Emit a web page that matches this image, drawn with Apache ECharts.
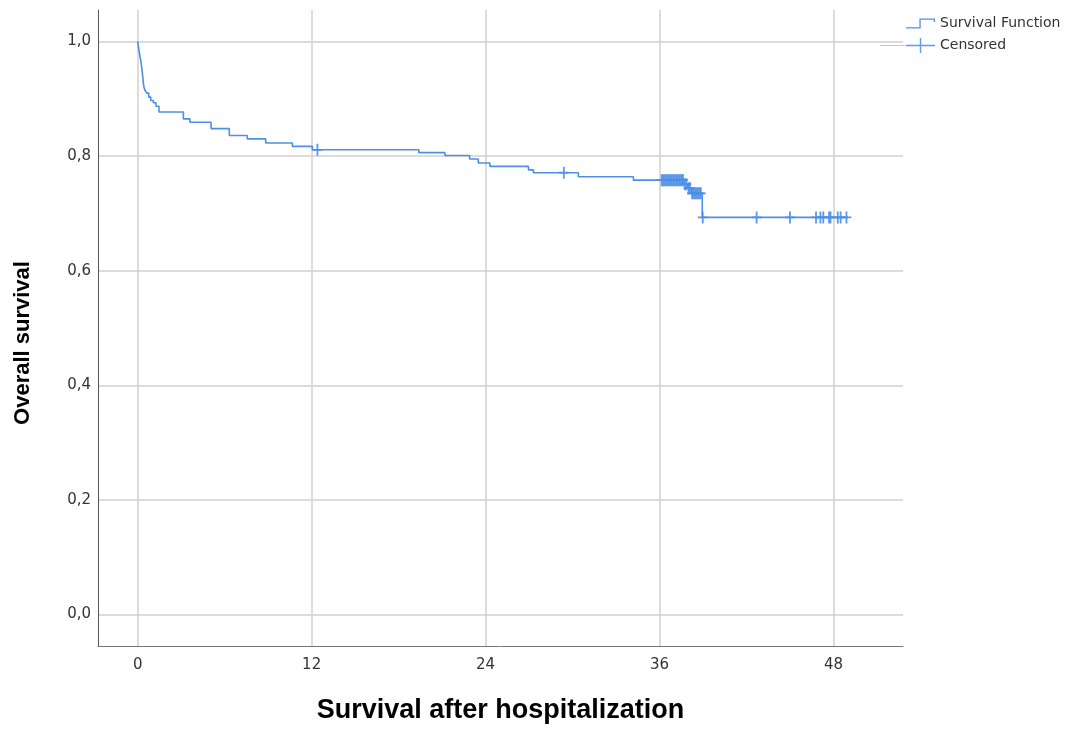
<!DOCTYPE html>
<html>
<head>
<meta charset="utf-8">
<script src="https://cdn.jsdelivr.net/npm/echarts@6/dist/echarts.min.js"></script>
<style>
  html, body { margin: 0; padding: 0; background: #fff; }
  #main { width: 1068px; height: 729px; }
</style>
</head>
<body>
<div id="main"></div>
<script>
// Kaplan-Meier step points: [months, survival after the drop]
var survivalSteps = [
  [0, 1.0], [0.05, 0.99], [0.1, 0.983], [0.15, 0.975], [0.2, 0.968], [0.25, 0.96],
  [0.3, 0.95], [0.34, 0.94], [0.38, 0.93], [0.42, 0.921], [0.5, 0.915], [0.62, 0.91],
  [0.76, 0.903], [0.9, 0.897], [1.08, 0.893], [1.26, 0.887], [1.47, 0.877],
  [3.15, 0.865], [3.6, 0.859], [5.06, 0.848], [6.32, 0.836], [7.56, 0.83],
  [8.83, 0.823], [10.67, 0.817], [12.05, 0.811], [19.4, 0.806], [21.2, 0.801],
  [22.9, 0.795], [23.5, 0.788], [24.3, 0.782], [26.96, 0.776], [27.3, 0.771],
  [30.4, 0.764], [34.2, 0.758], [37.7, 0.751], [37.95, 0.744], [38.2, 0.735],
  [38.95, 0.693], [49.0, 0.693]
];
// censored observations (months)
var censorTimes = [
  12.4, 29.4,
  36.15, 36.25, 36.35, 36.45, 36.55, 36.65, 36.75, 36.85, 36.95,
  37.05, 37.15, 37.25, 37.35, 37.45, 37.55, 37.62,
  37.75, 37.85, 38.0, 38.1, 38.25, 38.35, 38.45, 38.55, 38.65, 38.75, 38.85,
  38.98, 42.7, 45.0, 46.8, 47.1, 47.3, 47.7, 47.8, 48.3, 48.5, 48.9
];
var xTicks = [0, 12, 24, 36, 48];
var yTicks = [0, 0.2, 0.4, 0.6, 0.8, 1.0];

function survivalAt(t) {
  var s = survivalSteps[0][1];
  for (var i = 0; i < survivalSteps.length; i++) {
    if (survivalSteps[i][0] <= t) s = survivalSteps[i][1];
  }
  return s;
}
var censorData = censorTimes.map(function (t) { return [t, survivalAt(t)]; });

var blue = '#4d8fe6';
var plusPath = 'path://M4,0h1.8v12h-1.8z M0,5.1h9.8v1.8h-9.8z';
var stepIcon = 'path://M0,0h0.01v0.01h-0.01z M29,15h0.01v0.01h-0.01z ' +
  'M0,11.2h13.4v-8.7h15.6v3.6h-1.3v-2.3h-13v8.7h-14.7z';
var censorIcon = 'path://M0,6.8h29v1.4h-29z M13.8,0h1.4v15h-1.4z';

var myChart = echarts.init(document.getElementById('main'));
var opt = {
  animation: false,
  backgroundColor: '#fff',
  grid: { left: 98, right: 165, top: 10, bottom: 83 },
  legend: {
    orient: 'vertical',
    left: 906,
    top: 16,
    padding: 0,
    itemWidth: 29,
    itemHeight: 15,
    itemGap: 7,
    textStyle: { fontFamily: 'DejaVu Sans', fontSize: 14, color: '#333' },
    data: [
      { name: 'Survival Function', icon: stepIcon },
      { name: 'Censored', icon: censorIcon }
    ]
  },
  graphic: [{
    type: 'line',
    shape: { x1: 880, y1: 45.5, x2: 905, y2: 45.5 },
    style: { stroke: '#c8c8c8', lineWidth: 1 }
  }],
  xAxis: {
    type: 'value',
    min: -2.74,
    max: 52.8,
    name: 'Survival after hospitalization',
    nameLocation: 'middle',
    nameGap: 51,
    nameTextStyle: { fontFamily: 'Liberation Sans', fontWeight: 'bold', fontSize: 27, color: '#000' },
    axisLine: { show: true, onZero: false, lineStyle: { color: '#777', width: 1 } },
    axisTick: { show: false, customValues: xTicks },
    axisLabel: {
      customValues: xTicks,
      margin: 12,
      fontFamily: 'DejaVu Sans', fontSize: 15, color: '#333'
    },
    splitLine: { show: true, lineStyle: { color: '#d0d0d0', width: 1.5 } }
  },
  yAxis: {
    type: 'value',
    min: -0.055,
    max: 1.055,
    name: 'Overall survival',
    nameLocation: 'middle',
    nameGap: 64,
    nameTextStyle: { fontFamily: 'Liberation Sans', fontWeight: 'bold', fontSize: 22, color: '#000', padding: [0, 30, 0, 0] },
    axisLine: { show: true, onZero: false, lineStyle: { color: '#555', width: 1 } },
    axisTick: { show: false, customValues: yTicks },
    axisLabel: {
      customValues: yTicks,
      margin: 7,
      fontFamily: 'DejaVu Sans', fontSize: 15, color: '#333',
      formatter: function (v) { return v.toFixed(1).replace('.', ','); }
    },
    splitLine: { show: true, lineStyle: { color: '#d0d0d0', width: 1.5 } }
  },
  series: [
    {
      name: 'Survival Function',
      type: 'line',
      step: 'end',
      showSymbol: false,
      lineStyle: { color: blue, width: 1.6 },
      itemStyle: { color: blue },
      data: survivalSteps
    },
    {
      name: 'Censored',
      type: 'scatter',
      symbol: plusPath,
      symbolSize: [10, 12],
      itemStyle: { color: blue, opacity: 0.9 },
      data: censorData
    }
  ]
};
myChart.setOption(opt);
</script>
</body>
</html>
